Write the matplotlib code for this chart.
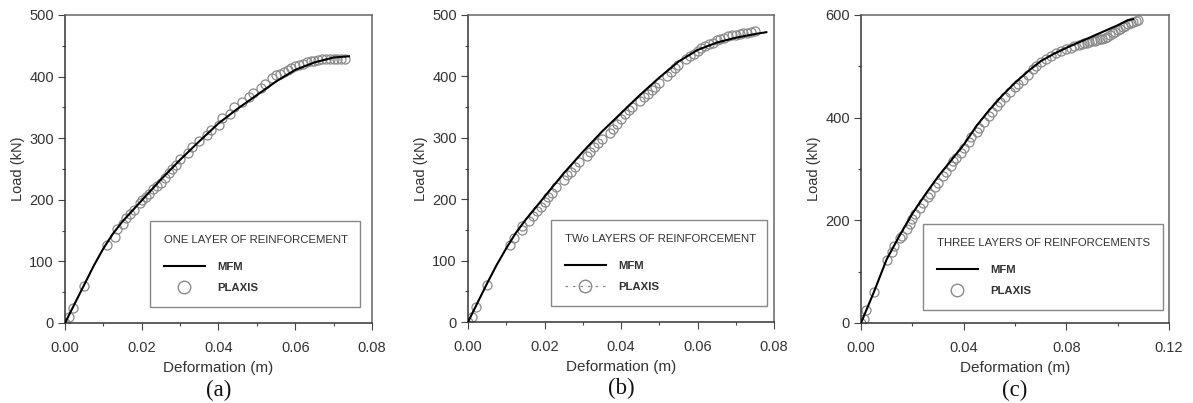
import matplotlib
matplotlib.use("Agg")
import matplotlib.pyplot as plt
from matplotlib.lines import Line2D
from matplotlib.ticker import MultipleLocator, FormatStrFormatter

plt.rcParams['font.family'] = ['Liberation Sans', 'DejaVu Sans']

# ---------------- data ----------------
# (a) one layer
a_mfm_x = [0, 0.005, 0.0075, 0.01, 0.0125, 0.015, 0.02, 0.025, 0.03, 0.035, 0.04, 0.045, 0.05, 0.055, 0.06, 0.065, 0.07, 0.074]
a_mfm_y = [0, 62, 93, 121, 145, 165, 199, 233, 265, 295, 324, 348, 370, 392, 411, 423, 431, 433]
a_plx_x = [0.000, 0.001, 0.002, 0.005, 0.011, 0.013, 0.0135, 0.015, 0.016, 0.017, 0.018, 0.0195, 0.020, 0.021,
           0.022, 0.023, 0.024, 0.025, 0.026, 0.027, 0.028, 0.029, 0.030, 0.032, 0.033, 0.035, 0.037, 0.038,
           0.040, 0.041, 0.043, 0.044, 0.046, 0.048, 0.049, 0.051, 0.052, 0.054, 0.055, 0.056, 0.057, 0.058,
           0.059, 0.060, 0.061, 0.062, 0.063, 0.064, 0.065, 0.066, 0.067, 0.068, 0.069, 0.070, 0.071, 0.072, 0.073]
a_plx_y = [0, 10, 25, 60, 127, 140, 153, 160, 170, 177, 184, 195, 200, 205,
           210, 218, 222, 228, 235, 244, 250, 256, 266, 276, 285, 295, 305, 314,
           322, 332, 340, 350, 359, 367, 374, 381, 388, 397, 402, 405, 408, 411,
           414, 417, 419, 421, 423, 425, 426, 427, 428, 429, 429, 429, 429, 429, 429]

# (b) two layers
b_mfm_x = [0, 0.005, 0.0075, 0.01, 0.0125, 0.015, 0.02, 0.025, 0.03, 0.035, 0.04, 0.045, 0.05, 0.055, 0.06, 0.065, 0.07, 0.075, 0.078]
b_mfm_y = [0, 63, 93, 120, 145, 166, 204, 242, 277, 310, 340, 370, 398, 424, 443, 455, 463, 469, 472]
b_plx_x = [0.000, 0.001, 0.002, 0.005, 0.011, 0.012, 0.014, 0.014, 0.016, 0.017, 0.018, 0.019, 0.020, 0.021,
           0.022, 0.023, 0.025, 0.026, 0.027, 0.028, 0.029, 0.031, 0.032, 0.033, 0.034, 0.035, 0.037, 0.038,
           0.039, 0.040, 0.041, 0.042, 0.043, 0.045, 0.046, 0.047, 0.048, 0.049, 0.050, 0.052, 0.053, 0.054,
           0.055, 0.057, 0.058, 0.059, 0.060, 0.061, 0.062, 0.063, 0.064, 0.065, 0.066, 0.067, 0.068, 0.069,
           0.070, 0.071, 0.072, 0.073, 0.074, 0.075]
b_plx_y = [0, 8, 25, 60, 125, 137, 150, 157, 165, 172, 180, 188, 196, 203,
           210, 220, 232, 240, 245, 252, 260, 270, 277, 285, 292, 298, 308, 315,
           322, 330, 338, 345, 350, 360, 366, 372, 378, 383, 390, 400, 407, 413,
           418, 428, 433, 437, 442, 446, 449, 452, 455, 459, 461, 463, 466, 467,
           468, 469, 470, 471, 472, 474]

# (c) three layers
c_mfm_x = [0, 0.005, 0.01, 0.015, 0.02, 0.025, 0.03, 0.035, 0.04, 0.045, 0.05, 0.055, 0.06, 0.065, 0.07,
           0.075, 0.08, 0.085, 0.09, 0.095, 0.1, 0.104, 0.106]
c_mfm_y = [0, 60, 124, 170, 213, 250, 285, 316, 347, 384, 415, 443, 468, 490, 510,
           524, 536, 547, 558, 569, 580, 590, 592]
c_plx_x = [0.000, 0.001, 0.002, 0.005, 0.010, 0.012, 0.013, 0.015, 0.016, 0.018, 0.019, 0.020, 0.021, 0.023,
           0.024, 0.026, 0.027, 0.029, 0.030, 0.032, 0.033, 0.035, 0.036, 0.037, 0.039, 0.040, 0.042, 0.043,
           0.045, 0.046, 0.048, 0.050, 0.051, 0.053, 0.054, 0.056, 0.058, 0.060, 0.061, 0.063, 0.065, 0.067,
           0.068, 0.070, 0.072, 0.074, 0.076, 0.078, 0.080, 0.082, 0.083, 0.085, 0.086, 0.087, 0.088, 0.089,
           0.090, 0.091, 0.092, 0.093, 0.094, 0.095, 0.096, 0.097, 0.098, 0.099, 0.100, 0.101, 0.102, 0.103,
           0.104, 0.105, 0.106, 0.107, 0.108]
c_plx_y = [0, 8, 25, 60, 122, 138, 150, 165, 170, 183, 192, 202, 212, 225,
           233, 245, 252, 265, 272, 287, 295, 305, 315, 322, 332, 340, 352, 362,
           373, 380, 392, 403, 412, 422, 430, 440, 450, 460, 466, 474, 484, 494,
           500, 508, 514, 520, 525, 529, 533, 536, 539, 541, 543, 545, 546, 548,
           549, 550, 552, 553, 554, 556, 558, 561, 564, 567, 570, 573, 576, 579,
           582, 585, 587, 589, 590]

titles = ["ONE LAYER OF REINFORCEMENT", "TWo LAYERS OF REINFORCEMENT", "THREE LAYERS OF REINFORCEMENTS"]
letters = ["(a)", "(b)", "(c)"]
xlims = [0.08, 0.08, 0.12]
ylims = [500, 500, 600]
xmajor = [0.02, 0.02, 0.04]
ymajor = [100, 100, 200]

# ---------------- figure ----------------
W, H = 1193, 403
fig = plt.figure(figsize=(W / 100, H / 100), dpi=100)

# axes pixel boxes: left, right, top, bottom
boxes = [(65, 372, 15, 323), (468, 774, 15, 322), (861, 1169, 15, 323)]
# legend boxes in pixel: left, right, top, bottom
leg_boxes = [(150, 360, 220, 307), (551, 767, 219, 306), (923, 1163, 223, 310)]

data = [(a_mfm_x, a_mfm_y, a_plx_x, a_plx_y),
        (b_mfm_x, b_mfm_y, b_plx_x, b_plx_y),
        (c_mfm_x, c_mfm_y, c_plx_x, c_plx_y)]

txt_col = '#333333'
for i in range(3):
    l, r, t, b = boxes[i]
    ax = fig.add_axes([l / W, (H - b) / H, (r - l) / W, (b - t) / H])
    mx, my, px, py = data[i]
    ax.plot(px, py, linestyle='none', marker='o', markersize=6.5, markerfacecolor='none',
            markeredgecolor='#8a8a8a', markeredgewidth=0.9, zorder=2)
    ax.plot(mx, my, color='black', linewidth=1.5, zorder=3)

    ax.set_xlim(0, xlims[i])
    ax.set_ylim(0, ylims[i])
    ax.xaxis.set_major_locator(MultipleLocator(xmajor[i]))
    ax.xaxis.set_minor_locator(MultipleLocator(xmajor[i] / 2))
    ax.yaxis.set_major_locator(MultipleLocator(ymajor[i]))
    ax.yaxis.set_minor_locator(MultipleLocator(ymajor[i] / 2))
    ax.xaxis.set_major_formatter(FormatStrFormatter('%.2f'))
    ax.tick_params(which='both', direction='out', colors='#444444', labelcolor=txt_col, labelsize=10.5, width=0.8)
    ax.tick_params(which='major', length=5)
    ax.tick_params(which='minor', length=2.5)
    ax.tick_params(axis='x', which='major', pad=8)
    ax.tick_params(axis='y', which='major', pad=3)
    for s in ax.spines.values():
        s.set_color('#333333')
        s.set_linewidth(1.1)
    ax.spines['right'].set_color('#666666')
    ax.spines['top'].set_color('#666666')

    ax.set_xlabel("Deformation (m)", fontsize=11, color=txt_col, labelpad=4)
    ax.set_ylabel("Load (kN)", fontsize=10.5, color=txt_col, labelpad=3)
    ax.text(0.5, -0.218, letters[i], transform=ax.transAxes, ha='center', va='center',
            fontsize=16.5, family=['Liberation Serif', 'DejaVu Serif'], color='#111111')

    # legend
    if i == 1:
        plx_handle = Line2D([], [], linestyle=(0, (2, 4)), color='#8a8a8a', linewidth=0.9,
                            marker='o', markersize=9, markerfacecolor='none', markeredgecolor='#8a8a8a')
    else:
        plx_handle = Line2D([], [], linestyle='none', color='#8a8a8a',
                            marker='o', markersize=9, markerfacecolor='none', markeredgecolor='#8a8a8a')
    mfm_handle = Line2D([], [], color='black', linewidth=1.5)
    ll, lr, lt, lb = leg_boxes[i]
    bx0 = (ll - l) / (r - l)
    bw = (lr - ll) / (r - l)
    by0 = (b - lb) / (b - t)
    bh = (lb - lt) / (b - t)
    fs = 8.2
    lsp = 1.0
    leg = ax.legend([mfm_handle, plx_handle], ["MFM", "PLAXIS"], title=titles[i],
                    loc='lower left', bbox_to_anchor=(bx0, by0, bw, bh), mode='expand',
                    fontsize=fs, title_fontproperties={'size': fs}, alignment='left',
                    frameon=True, fancybox=False, edgecolor='#888888', framealpha=1,
                    borderpad=1.2, labelspacing=lsp, handlelength=3.6, handletextpad=1.1,
                    borderaxespad=0)
    # a little more room between the title and the entries
    leg._legend_box.sep = lsp * fs + 4.0
    leg.get_frame().set_linewidth(1.0)
    for tx in leg.get_texts():
        tx.set_fontweight('bold')
        tx.set_color(txt_col)
    leg.get_title().set_color(txt_col)

fig.savefig("out.png", dpi=100)
